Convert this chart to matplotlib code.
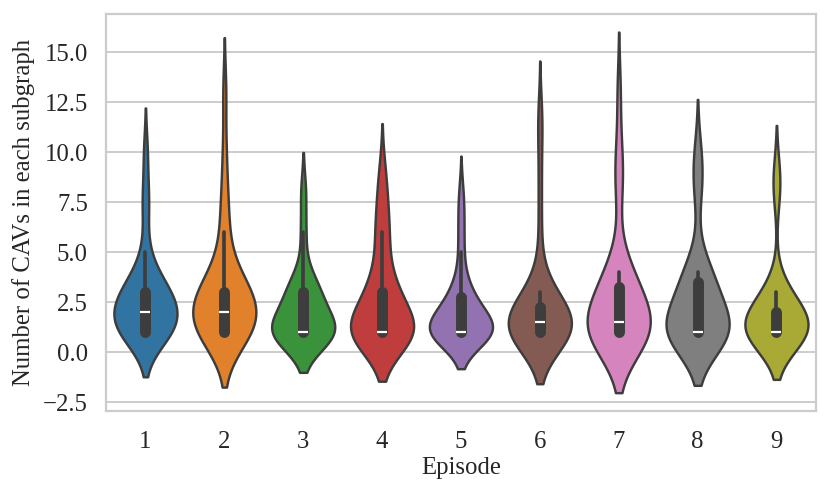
import matplotlib
matplotlib.use("Agg")
import matplotlib.pyplot as plt
import seaborn as sns
import pandas as pd

# Number of CAVs in each subgraph, per episode (observations)
ep1 = [1, 1, 1, 1, 1, 1, 1, 1, 1, 2, 2, 2, 2, 2, 2, 2, 2, 3, 3, 3, 3, 3, 3, 3, 4, 4, 5, 7, 8, 10]
ep2 = [1, 1, 1, 1, 1, 1, 1, 1, 1, 1, 2, 2, 2, 2, 2, 2, 2, 2, 3, 3, 3, 3, 3, 3, 3, 3, 4, 4, 5, 6, 7, 8, 10, 13]
ep3 = [1, 1, 1, 1, 1, 1, 1, 1, 1, 1, 1, 1, 2, 2, 3, 3, 3, 3, 3, 4, 6, 8]
ep4 = [1, 1, 1, 1, 1, 1, 1, 1, 1, 1, 1, 1, 1, 1, 1, 2, 2, 3, 3, 3, 3, 3, 4, 5, 6, 6, 7, 8, 9]
ep5 = [1, 1, 1, 1, 1, 1, 1, 1, 1, 1, 1, 1, 1, 1, 1, 1, 1, 1, 2, 2, 2, 2, 2, 2, 2, 3, 3, 3, 3, 4, 5, 6, 7, 8]
ep6 = [1, 1, 1, 1, 1, 1, 1, 1, 1, 1, 1, 1, 1, 1, 1, 1, 1, 1, 1, 1, 2, 2, 2, 2, 2, 2, 2, 2, 2, 2,
       3, 3, 3, 3, 3, 5, 7, 9, 11, 12]
ep7 = [1, 1, 1, 1, 1, 1, 1, 1, 1, 1, 1, 1, 1, 1, 1, 1, 2, 2, 2, 3, 3, 3, 3, 3, 4, 4, 4, 4, 8, 9, 10, 13]
ep8 = [1, 1, 1, 1, 1, 1, 1, 1, 1, 1, 1, 1, 1, 1, 2, 2, 3, 3, 3, 3, 4, 4, 4, 4, 8, 9, 10]
ep9 = [1, 1, 1, 1, 1, 1, 1, 1, 1, 1, 1, 1, 2, 2, 2, 2, 2, 3, 3, 3, 8, 9]

episodes = ["1", "2", "3", "4", "5", "6", "7", "8", "9"]
series = [ep1, ep2, ep3, ep4, ep5, ep6, ep7, ep8, ep9]
yticks = [-2.5, 0.0, 2.5, 5.0, 7.5, 10.0, 12.5, 15.0]

rows = []
for ep, vals in zip(episodes, series):
    for v in vals:
        rows.append({"Episode": ep, "Count": v})
df = pd.DataFrame(rows)

sns.set_style("whitegrid", {"grid.color": ".8", "axes.edgecolor": ".8"})
plt.rcParams["font.family"] = ["Liberation Serif", "DejaVu Serif"]
plt.rcParams["axes.linewidth"] = 1.6
plt.rcParams["grid.linewidth"] = 1.4

fig = plt.figure(figsize=(8.3, 4.95), dpi=100)
ax = fig.add_axes([0.1277, 0.1703, 0.983 - 0.1277, 0.9717 - 0.1703])

kw = dict(data=df, x="Episode", y="Count", hue="Episode", order=episodes,
          hue_order=episodes, palette="tab10", inner="box", linewidth=1.75,
          ax=ax, legend=False)
try:
    sns.violinplot(density_norm="width", **kw)
except TypeError:
    kw.pop("legend")
    sns.violinplot(scale="width", **kw)

ax.set_yticks(yticks)
ax.set_yticklabels([f"{t:.1f}".replace("-", "\u2212") for t in yticks])
ax.tick_params(axis="x", labelsize=17.8, pad=11)
ax.tick_params(axis="y", labelsize=17.8, pad=9.5)
ax.set_xlabel("Episode", fontsize=17.8, labelpad=3)
ax.set_ylabel("Number of CAVs in each subgraph", fontsize=17.8, labelpad=6)
ax.xaxis.grid(False)
for s in ax.spines.values():
    s.set_color(".8")
    s.set_linewidth(1.6)

fig.savefig("out.png", dpi=100)
